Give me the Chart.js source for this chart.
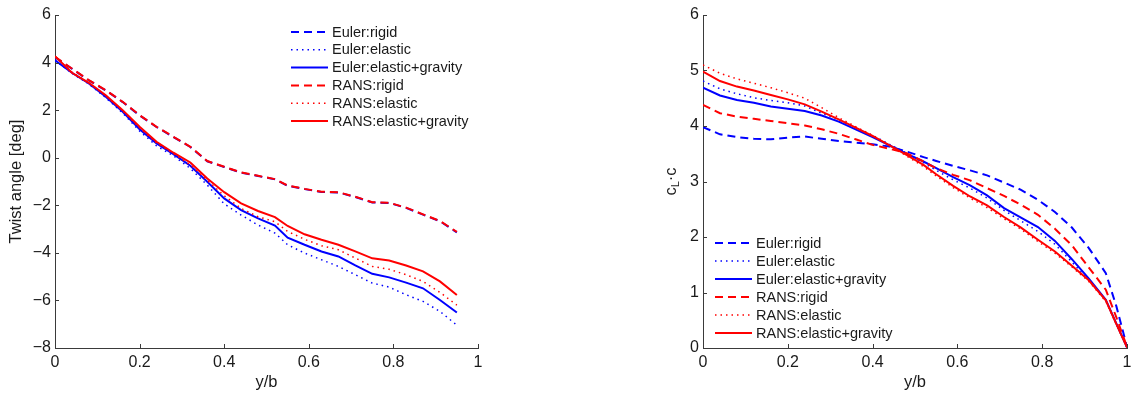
<!DOCTYPE html>
<html>
<head>
<meta charset="utf-8">
<script src="https://cdn.jsdelivr.net/npm/chart.js@4.4.1/dist/chart.umd.min.js"></script>
<style>
html,body{margin:0;padding:0;background:#fff;}
#wrap{display:flex;width:1134px;height:394px;}
canvas{display:block;}
</style>
</head>
<body>
<div id="wrap"><canvas id="c1" width="567" height="394"></canvas><canvas id="c2" width="567" height="394"></canvas></div>
<script>
// ---------- data ----------
const seriesNames = ['Euler:rigid','Euler:elastic','Euler:elastic+gravity','RANS:rigid','RANS:elastic','RANS:elastic+gravity'];

const xTwist = [0, 0.04, 0.08, 0.12, 0.16, 0.2, 0.24, 0.28, 0.32, 0.36, 0.4, 0.44, 0.48, 0.52, 0.55, 0.59, 0.63, 0.67, 0.71, 0.75, 0.79, 0.83, 0.87, 0.91, 0.95];
const twistEulerRigid       = [4.22, 3.74, 3.25, 2.83, 2.34, 1.78, 1.29, 0.87, 0.45, -0.15, -0.39, -0.63, -0.77, -0.91, -1.18, -1.32, -1.44, -1.46, -1.65, -1.88, -1.90, -2.11, -2.39, -2.67, -3.14];
const twistEulerElastic     = [4.10, 3.55, 3.10, 2.52, 1.88, 1.12, 0.50, 0.08, -0.45, -1.15, -1.94, -2.41, -2.83, -3.17, -3.66, -4.01, -4.29, -4.57, -4.92, -5.27, -5.44, -5.76, -6.04, -6.46, -7.04];
const twistEulerElasticGrav = [4.10, 3.57, 3.12, 2.56, 1.93, 1.20, 0.60, 0.15, -0.34, -1.01, -1.71, -2.20, -2.55, -2.85, -3.36, -3.66, -3.94, -4.15, -4.53, -4.88, -5.03, -5.25, -5.49, -5.98, -6.51];
const twistRansRigid        = [4.24, 3.75, 3.26, 2.84, 2.35, 1.79, 1.30, 0.88, 0.46, -0.14, -0.38, -0.62, -0.76, -0.90, -1.17, -1.31, -1.43, -1.45, -1.64, -1.87, -1.89, -2.10, -2.38, -2.66, -3.12];
const twistRansElastic      = [4.25, 3.60, 3.15, 2.60, 1.97, 1.25, 0.62, 0.17, -0.30, -0.95, -1.60, -2.13, -2.48, -2.69, -3.10, -3.43, -3.70, -3.87, -4.22, -4.57, -4.69, -4.92, -5.20, -5.66, -6.20];
const twistRansElasticGrav  = [4.27, 3.57, 3.15, 2.63, 2.00, 1.30, 0.67, 0.21, -0.20, -0.87, -1.45, -1.92, -2.24, -2.50, -2.87, -3.22, -3.45, -3.66, -3.94, -4.23, -4.32, -4.53, -4.78, -5.20, -5.77];

const xLift = [0, 0.04, 0.08, 0.12, 0.16, 0.2, 0.24, 0.28, 0.32, 0.36, 0.4, 0.44, 0.48, 0.52, 0.55, 0.59, 0.63, 0.67, 0.71, 0.75, 0.79, 0.83, 0.87, 0.91, 0.95, 0.975, 1];
const liftEulerRigid       = [3.98, 3.85, 3.80, 3.77, 3.76, 3.79, 3.81, 3.77, 3.73, 3.70, 3.67, 3.63, 3.54, 3.44, 3.37, 3.28, 3.20, 3.11, 2.98, 2.85, 2.67, 2.45, 2.17, 1.80, 1.35, 0.75, 0.02];
const liftEulerElastic     = [4.81, 4.67, 4.58, 4.51, 4.46, 4.42, 4.36, 4.23, 4.11, 3.97, 3.83, 3.67, 3.51, 3.34, 3.20, 3.03, 2.88, 2.70, 2.48, 2.29, 2.10, 1.87, 1.55, 1.22, 0.86, 0.43, 0.01];
const liftEulerElasticGrav = [4.69, 4.55, 4.47, 4.42, 4.35, 4.31, 4.27, 4.19, 4.08, 3.94, 3.80, 3.65, 3.50, 3.36, 3.24, 3.08, 2.93, 2.75, 2.52, 2.35, 2.18, 1.93, 1.60, 1.25, 0.87, 0.44, 0.01];
const liftRansRigid        = [4.38, 4.23, 4.17, 4.13, 4.09, 4.05, 4.01, 3.94, 3.86, 3.76, 3.66, 3.59, 3.51, 3.36, 3.24, 3.12, 3.02, 2.88, 2.74, 2.58, 2.40, 2.15, 1.85, 1.45, 1.05, 0.55, 0.02];
const liftRansElastic      = [5.10, 4.95, 4.85, 4.77, 4.69, 4.60, 4.50, 4.33, 4.15, 3.99, 3.83, 3.65, 3.46, 3.27, 3.10, 2.89, 2.70, 2.53, 2.33, 2.14, 1.92, 1.71, 1.46, 1.20, 0.84, 0.42, 0.01];
const liftRansElasticGrav  = [4.98, 4.81, 4.71, 4.64, 4.56, 4.48, 4.39, 4.26, 4.12, 3.97, 3.82, 3.65, 3.48, 3.30, 3.13, 2.92, 2.73, 2.57, 2.36, 2.17, 1.95, 1.74, 1.48, 1.22, 0.86, 0.43, 0.01];

const xTickLabels = ['0','0.2','0.4','0.6','0.8','1'];
const twistTickLabels = ['\u22128','\u22126','\u22124','\u22122','0','2','4','6'];
const liftTickLabels = ['0','1','2','3','4','5','6'];

// ---------- styles ----------
const FONT = "'Liberation Sans', Arial, Helvetica, sans-serif";
const TXT = '#1a1a1a';
const AXIS = '#3a3a3a';
const BLUE = '#0000ff', RED = '#ff0000';
const styles = [
  {color: BLUE, dash: [8,5], width: 2},
  {color: BLUE, dash: [1.5,4], width: 1.5},
  {color: BLUE, dash: [], width: 2},
  {color: RED,  dash: [8,5], width: 2},
  {color: RED,  dash: [1.5,4], width: 1.5},
  {color: RED,  dash: [], width: 2}
];

function makeDatasets(xs, seriesList) {
  return seriesList.map((ys, i) => ({
    label: seriesNames[i],
    data: xs.map((x, k) => ({x: x, y: ys[k]})),
    borderColor: styles[i].color,
    borderDash: styles[i].dash,
    borderWidth: styles[i].width,
    pointRadius: 0,
    tension: 0,
    fill: false,
    order: 6 - i
  }));
}

// inward ticks (MATLAB style)
const inwardTicks = {
  id: 'inwardTicks',
  afterDraw(chart) {
    const ctx = chart.ctx, ca = chart.chartArea;
    const xs = chart.scales.x, ys = chart.scales.y;
    ctx.save();
    ctx.strokeStyle = AXIS; ctx.lineWidth = 1;
    ctx.beginPath();
    xs.ticks.forEach(t => {
      const px = Math.round(xs.getPixelForValue(t.value)) + 0.5;
      ctx.moveTo(px, ca.bottom); ctx.lineTo(px, ca.bottom - 4);
    });
    ys.ticks.forEach(t => {
      const py = Math.round(ys.getPixelForValue(t.value)) + 0.5;
      ctx.moveTo(ca.left, py); ctx.lineTo(ca.left + 4, py);
    });
    ctx.stroke();
    ctx.restore();
  }
};

// legend drawn inside the axes
const boxLegend = {
  id: 'boxLegend',
  afterDraw(chart, args, opts) {
    const ctx = chart.ctx, ca = chart.chartArea;
    ctx.save();
    ctx.font = '14.5px ' + FONT;
    ctx.textBaseline = 'middle';
    ctx.fillStyle = TXT;
    chart.data.datasets.forEach((ds, i) => {
      const y = ca.top + opts.top + i * opts.rowH;
      const x0 = ca.left + opts.left;
      ctx.beginPath();
      ctx.strokeStyle = ds.borderColor;
      ctx.lineWidth = ds.borderWidth;
      ctx.setLineDash(ds.borderDash);
      ctx.moveTo(x0, y); ctx.lineTo(x0 + 37, y);
      ctx.stroke();
      ctx.setLineDash([]);
      ctx.fillText(ds.label, x0 + 41, y + 0.5);
    });
    ctx.restore();
  }
};

// y title with subscript (c_L·c)
const subTitle = {
  id: 'subTitle',
  afterDraw(chart, args, opts) {
    if (!opts.enabled) return;
    const ctx = chart.ctx, ca = chart.chartArea;
    const cx = ca.left - 32, cy = (ca.top + ca.bottom) / 2;
    ctx.save();
    ctx.translate(cx, cy);
    ctx.rotate(-Math.PI / 2);
    ctx.fillStyle = TXT;
    ctx.textBaseline = 'middle';
    const big = '16.5px ' + FONT, small = '11px ' + FONT;
    ctx.font = big; const w1 = ctx.measureText('c').width;
    ctx.font = small; const w2 = ctx.measureText('L').width;
    ctx.font = big; const w3 = ctx.measureText('\u00b7c').width;
    let x = -(w1 + w2 + w3) / 2;
    ctx.font = big; ctx.fillText('c', x, 0); x += w1;
    ctx.font = small; ctx.fillText('L', x, 5); x += w2;
    ctx.font = big; ctx.fillText('\u00b7c', x, 0);
    ctx.restore();
  }
};

function fixScale(size, horizontal) {
  return function(scale) {
    if (horizontal) scale.height = size; else scale.width = size;
    scale.paddingLeft = 0; scale.paddingRight = 0; scale.paddingTop = 0; scale.paddingBottom = 0;
  };
}

function makeChart(id, xs, series, yMin, yMax, yStep, yLabels, yTitle, padding, legendPos) {
  return new Chart(document.getElementById(id), {
    type: 'line',
    data: {datasets: makeDatasets(xs, series)},
    plugins: [inwardTicks, boxLegend, subTitle],
    options: {
      responsive: false,
      animation: false,
      devicePixelRatio: 1,
      layout: {padding: padding},
      plugins: {
        legend: {display: false},
        tooltip: {enabled: false},
        boxLegend: legendPos,
        subTitle: {enabled: !yTitle}
      },
      scales: {
        x: {
          type: 'linear', min: 0, max: 1,
          ticks: {stepSize: 0.2, color: TXT, font: {family: FONT, size: 16}, padding: 5,
                  maxRotation: 0, autoSkip: false,
                  callback: (v, i) => xTickLabels[i]},
          grid: {display: false, drawTicks: false},
          border: {display: true, color: AXIS, width: 1},
          title: {display: true, text: 'y/b', color: TXT, font: {family: FONT, size: 16.5}, padding: {top: 0, bottom: 2}},
          afterFit: fixScale(46, true)
        },
        y: {
          type: 'linear', min: yMin, max: yMax,
          ticks: {stepSize: yStep, color: TXT, font: {family: FONT, size: 16}, padding: 4,
                  autoSkip: false, callback: (v, i) => yLabels[i]},
          grid: {display: false, drawTicks: false},
          border: {display: true, color: AXIS, width: 1},
          title: {display: !!yTitle, text: yTitle || '', color: TXT, font: {family: FONT, size: 16.5}, padding: {top: 7, bottom: 0}},
          afterFit: fixScale(55, false)
        }
      }
    }
  });
}

makeChart('c1', xTwist,
  [twistEulerRigid, twistEulerElastic, twistEulerElasticGrav, twistRansRigid, twistRansElastic, twistRansElasticGrav],
  -8, 6, 2, twistTickLabels, 'Twist angle [deg]',
  {left: 0, top: 15, right: 89, bottom: 0},
  {left: 236, top: 17, rowH: 17.8});

makeChart('c2', xLift,
  [liftEulerRigid, liftEulerElastic, liftEulerElasticGrav, liftRansRigid, liftRansElastic, liftRansElasticGrav],
  0, 6, 1, liftTickLabels, null,
  {left: 81, top: 15, right: 7, bottom: 0},
  {left: 12, top: 228, rowH: 18});
</script>
</body>
</html>
